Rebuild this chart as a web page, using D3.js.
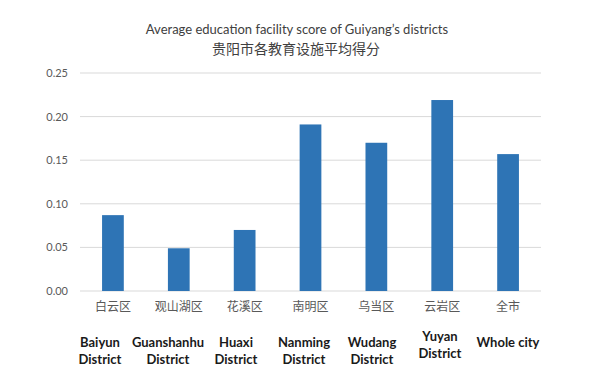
<!DOCTYPE html>
<html>
<head>
<meta charset="utf-8">
<script src="https://cdn.jsdelivr.net/npm/d3@7"></script>
<style>
  body { margin: 0; background: #fff; }
  svg { display: block; }
</style>
</head>
<body>
<svg id="chart" width="600" height="387"></svg>
<script>
const categories = ["白云区", "观山湖区", "花溪区", "南明区", "乌当区", "云岩区", "全市"];
const englishLabels = [
    ["Baiyun", "District"],
    ["Guanshanhu", "District"],
    ["Huaxi", "District"],
    ["Nanming", "District"],
    ["Wudang", "District"],
    ["Yuyan", "District"],
    ["Whole city"]
];
const scores = [0.087, 0.049, 0.070, 0.191, 0.170, 0.219, 0.157];
const yTicks = [0, 0.05, 0.10, 0.15, 0.20, 0.25];

const svg = d3.select("#chart");
const margin = {left: 80, right: 59, top: 73, bottom: 96};
const width = 600, height = 387;

const xScale = d3.scaleBand()
    .domain(categories)
    .range([margin.left, width - margin.right])
    .paddingInner(0.67)
    .paddingOuter(0.335);

const yScale = d3.scaleLinear()
    .domain([0, 0.25])
    .range([height - margin.bottom, margin.top]);

// english labels sit a little left of the bars
const engScale = d3.scalePoint()
    .domain(categories)
    .range([100, 508]);

// title
svg.append("text")
    .attr("x", 297).attr("y", 34)
    .attr("text-anchor", "middle")
    .style("font-family", "Lato, 'Open Sans', sans-serif")
    .style("font-size", "13px")
    .style("fill", "#404040")
    .text("Average education facility score of Guiyang’s districts");

svg.append("text")
    .attr("x", 296).attr("y", 54)
    .attr("text-anchor", "middle")
    .style("font-family", "'Noto Sans CJK SC', sans-serif")
    .style("font-size", "14px")
    .style("fill", "#404040")
    .text("贵阳市各教育设施平均得分");

// grid
svg.append("g")
    .selectAll("line")
    .data(yTicks)
    .enter()
    .append("line")
    .attr("x1", margin.left)
    .attr("x2", width - margin.right)
    .attr("y1", d => yScale(d))
    .attr("y2", d => yScale(d))
    .attr("stroke", "#d9d9d9")
    .attr("stroke-width", 1);

// y axis labels
const yAxis = d3.axisLeft(yScale)
    .tickValues(yTicks)
    .tickFormat(d3.format(".2f"))
    .tickSize(0)
    .tickPadding(12);

const yG = svg.append("g")
    .attr("transform", `translate(${margin.left},0)`)
    .call(yAxis);
yG.select(".domain").remove();
yG.selectAll("text")
    .style("font-family", "Lato, 'Open Sans', sans-serif")
    .style("font-size", "11px")
    .style("fill", "#595959");

// bars
svg.append("g")
    .selectAll("rect")
    .data(scores)
    .enter()
    .append("rect")
    .attr("x", (d, i) => xScale(categories[i]))
    .attr("width", xScale.bandwidth())
    .attr("y", d => yScale(d))
    .attr("height", d => yScale(0) - yScale(d))
    .attr("fill", "#2e74b5");

// chinese category axis
const xAxis = d3.axisBottom(xScale).tickSize(0).tickPadding(11);
const xG = svg.append("g")
    .attr("transform", `translate(0,${yScale(0)})`)
    .call(xAxis);
xG.select(".domain").remove();
xG.selectAll("text")
    .style("font-family", "'Noto Sans CJK SC', sans-serif")
    .style("font-size", "12px")
    .style("fill", "#595959");

// english labels
const eng = svg.append("g")
    .selectAll("text")
    .data(categories)
    .enter()
    .append("text")
    .attr("x", d => engScale(d))
    .attr("y", (d, i) => i === 5 ? 341 : 347)
    .attr("text-anchor", "middle")
    .style("font-family", "Lato, 'Open Sans', sans-serif")
    .style("font-size", "13px")
    .style("font-weight", "bold")
    .style("fill", "#1a1a1a");

eng.selectAll("tspan")
    .data((d, i) => englishLabels[i])
    .enter()
    .append("tspan")
    .attr("x", function() { return d3.select(this.parentNode).attr("x"); })
    .attr("dy", (d, j) => j === 0 ? 0 : 17)
    .text(d => d);
</script>
</body>
</html>
